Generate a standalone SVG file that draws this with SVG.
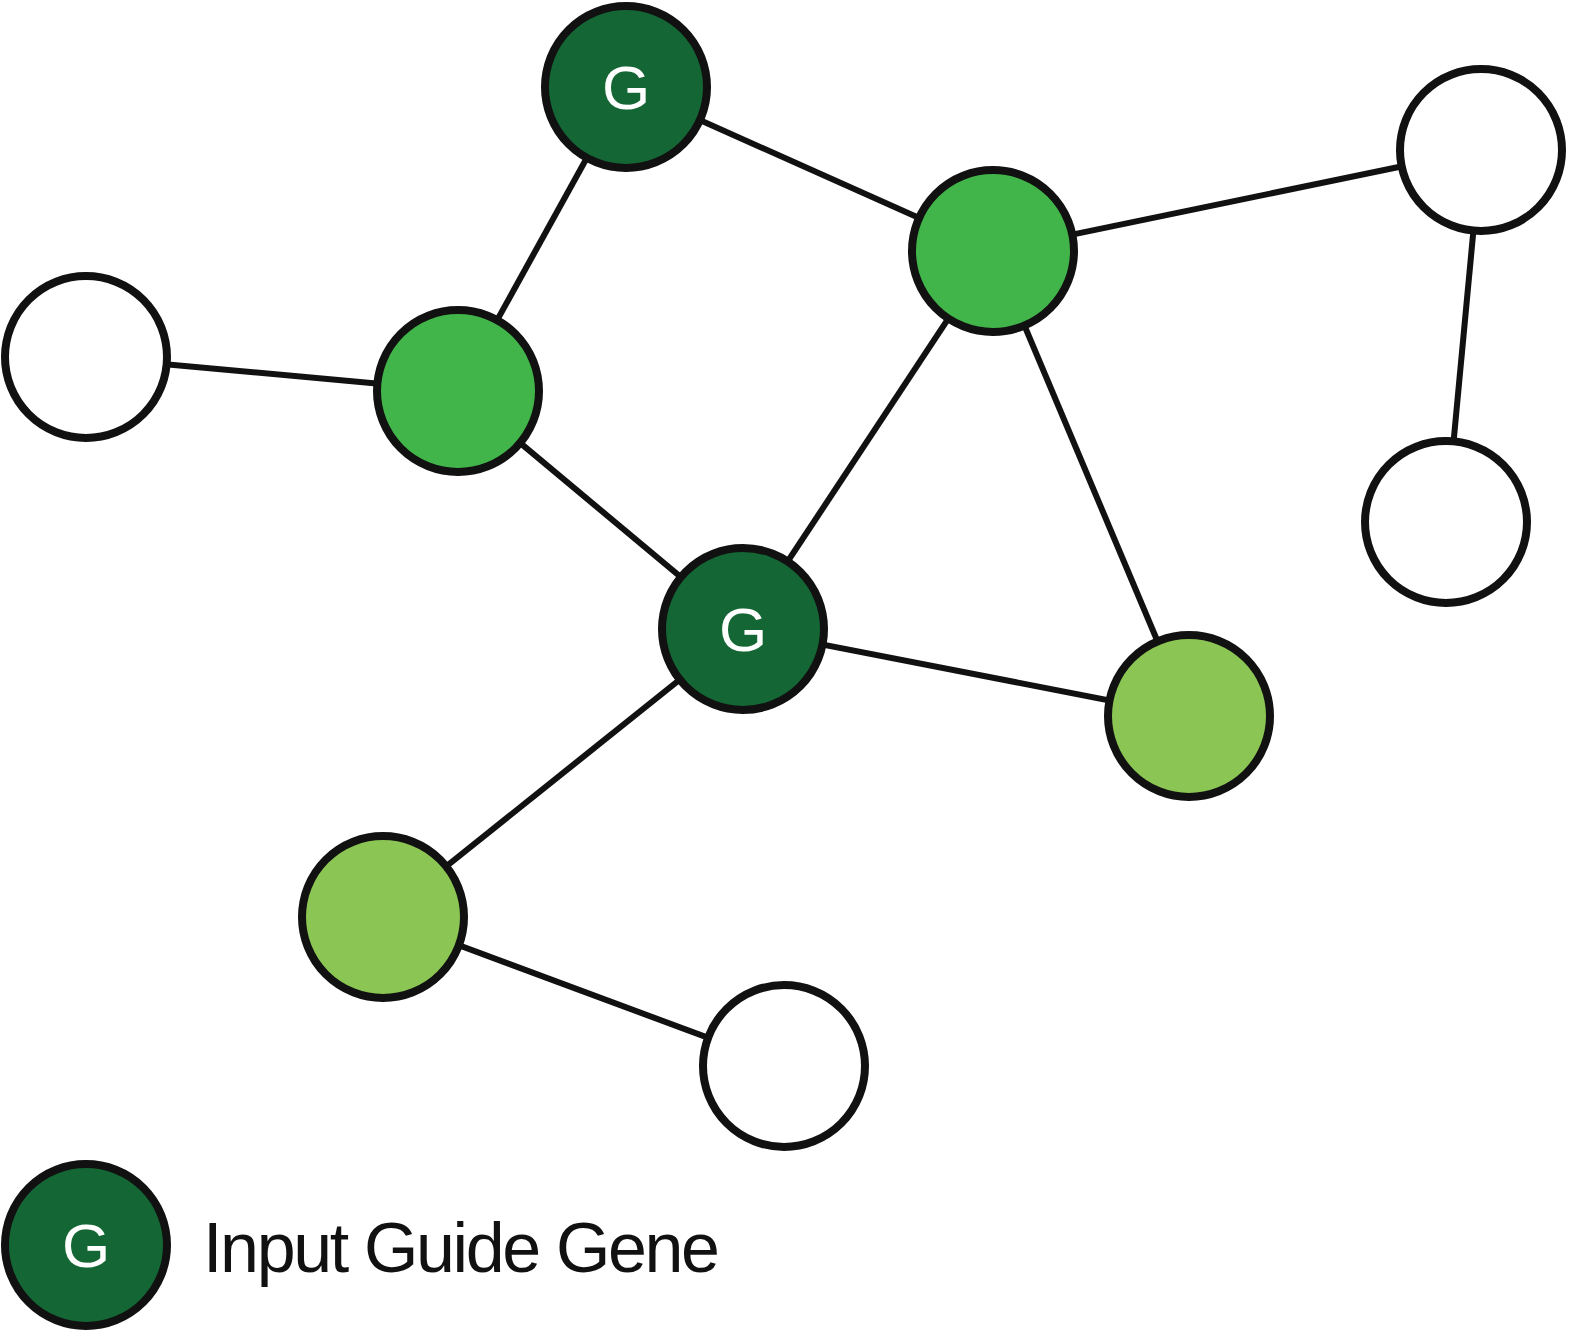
<svg xmlns="http://www.w3.org/2000/svg" width="1577" height="1339" viewBox="0 0 1577 1339">
<style>
.n{stroke:#111;stroke-width:8}
.d{fill:#146634}.g{fill:#42b54a}.l{fill:#8bc553}.w{fill:#fff}
.e line{stroke:#111;stroke-width:6}
.t{font-family:"Liberation Sans",Arial,sans-serif;font-size:62px;fill:#fff;text-anchor:middle}
</style>
<rect width="1577" height="1339" fill="#fff"/>
<g id="edges" class="e">
<line x1="626" y1="87" x2="458" y2="391"/>
<line x1="626" y1="87" x2="993" y2="251"/>
<line x1="993" y1="251" x2="1481" y2="150"/>
<line x1="1481" y1="150" x2="1446" y2="522"/>
<line x1="86" y1="357" x2="458" y2="391"/>
<line x1="458" y1="391" x2="743" y2="629"/>
<line x1="993" y1="251" x2="743" y2="629"/>
<line x1="993" y1="251" x2="1189" y2="716"/>
<line x1="743" y1="629" x2="1189" y2="716"/>
<line x1="743" y1="629" x2="383" y2="917"/>
<line x1="383" y1="917" x2="784" y2="1066"/>
</g>
<g id="n1"><circle class="n d" cx="626" cy="87" r="81"/><text class="t" x="626" y="109">G</text></g>
<g id="n2"><circle class="n g" cx="993" cy="251" r="81"/></g>
<g id="n3"><circle class="n w" cx="1481" cy="150" r="81"/></g>
<g id="n4"><circle class="n w" cx="86" cy="357" r="81"/></g>
<g id="n5"><circle class="n g" cx="458" cy="391" r="81"/></g>
<g id="n6"><circle class="n w" cx="1446" cy="522" r="81"/></g>
<g id="n7"><circle class="n d" cx="743" cy="629" r="81"/><text class="t" x="743" y="651">G</text></g>
<g id="n8"><circle class="n l" cx="1189" cy="716" r="81"/></g>
<g id="n9"><circle class="n l" cx="383" cy="917" r="81"/></g>
<g id="n10"><circle class="n w" cx="784" cy="1066" r="81"/></g>
<g id="legend"><circle class="n d" cx="86" cy="1245" r="81"/><text class="t" x="86" y="1267">G</text>
<text x="203" y="1272" font-family="Liberation Sans,Arial,sans-serif" font-size="70" fill="#111" textLength="517" lengthAdjust="spacing">Input Guide Gene</text></g>
</svg>
